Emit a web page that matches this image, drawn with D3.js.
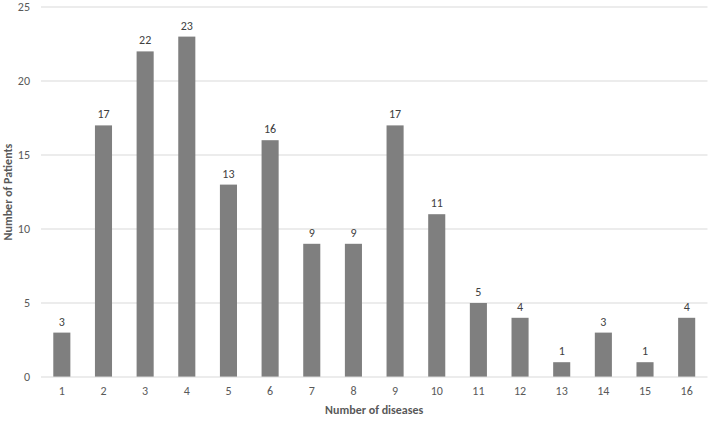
<!DOCTYPE html>
<html><head><meta charset="utf-8">
<script src="https://cdn.jsdelivr.net/npm/d3@7/dist/d3.min.js"></script>
<style>body{margin:0;background:#fff}svg{display:block;font-family:Calibri,Carlito,"Liberation Sans",Arial,sans-serif}</style>
</head><body><svg id="c" width="709" height="421"></svg>
<script>
const categories = ["1","2","3","4","5","6","7","8","9","10","11","12","13","14","15","16"];
const patients = [3,17,22,23,13,16,9,9,17,11,5,4,1,3,1,4];
const yTicks = [0,5,10,15,20,25];
const xTitle = "Number of diseases";
const yTitle = "Number of Patients";

const svg = d3.select("#c");
const m = {l:41, r:1.5, t:7, b:44};
const W = 709, H = 421;
const x = d3.scaleBand().domain(categories).range([m.l, W-m.r]).paddingInner(0.59).paddingOuter(0.295);
const y = d3.scaleLinear().domain([0,25]).range([H-m.b, m.t]);

// grid
svg.append("g").selectAll("line").data(yTicks.filter(d=>d>0)).join("line")
  .attr("x1", m.l).attr("x2", W-m.r).attr("y1", d=>y(d)).attr("y2", d=>y(d))
  .attr("stroke","#d9d9d9").attr("stroke-width",1);

// y labels
svg.append("g").selectAll("text").data(yTicks).join("text")
  .attr("x", 30).attr("y", d=>y(d)).attr("dy","0.35em").attr("text-anchor","end")
  .attr("font-size",12).attr("fill","#595959").text(d=>d);

// bars
svg.append("g").selectAll("rect").data(patients).join("rect")
  .attr("x",(d,i)=>x(categories[i])).attr("width",x.bandwidth())
  .attr("y",d=>y(d)).attr("height",d=>y(0)-y(d)).attr("fill","#7f7f7f");

// baseline
svg.append("line").attr("x1",m.l).attr("x2",W-m.r).attr("y1",y(0)).attr("y2",y(0))
  .attr("stroke","#d9d9d9").attr("stroke-width",1);

// value labels
svg.append("g").selectAll("text").data(patients).join("text")
  .attr("x",(d,i)=>x(categories[i])+x.bandwidth()/2).attr("y",d=>y(d)-7)
  .attr("text-anchor","middle").attr("font-size",12).attr("fill","#404040").text(d=>d);

// x labels
svg.append("g").selectAll("text").data(categories).join("text")
  .attr("x",d=>x(d)+x.bandwidth()/2).attr("y",y(0)+18)
  .attr("text-anchor","middle").attr("font-size",12).attr("fill","#595959").text(d=>d);

svg.append("text").attr("x",(m.l+W-m.r)/2).attr("y",414).attr("text-anchor","middle")
  .attr("font-size",12).attr("font-weight","bold").attr("fill","#595959").text(xTitle);
svg.append("text").attr("transform",`translate(12,${(m.t+H-m.b)/2}) rotate(-90)`).attr("text-anchor","middle")
  .attr("font-size",12).attr("font-weight","bold").attr("fill","#595959").text(yTitle);
</script></body></html>
